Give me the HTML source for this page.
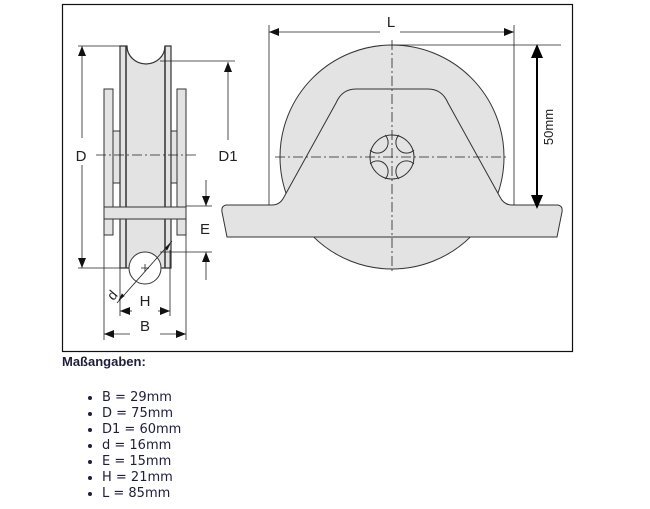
<!DOCTYPE html>
<html><head><meta charset="utf-8"><style>
body{margin:0;background:#fff;width:650px;height:509px;overflow:hidden;position:relative}
svg{position:absolute;left:0;top:0}
.t{font-family:"Liberation Sans",Arial,sans-serif;fill:#222}
#txt{position:absolute;left:62px;top:354px;font-family:"DejaVu Sans",Verdana,sans-serif;color:#1e1e3c;font-size:13px}
#txt b{font-family:"Liberation Sans",Arial,sans-serif;font-size:13px}
ul{margin:20px 0 0 0;padding:0 0 0 40px;list-style:disc}
li{line-height:16px;height:16px}
</style></head><body>
<svg width="650" height="509" viewBox="0 0 650 509">
<defs>
<marker id="a" markerWidth="10" markerHeight="8" refX="10" refY="4" orient="auto" markerUnits="userSpaceOnUse"><path d="M0,0 L10,4 L0,8 z" fill="#111"/></marker>
</defs>
<rect x="62.5" y="4.5" width="510" height="347" fill="#fff" stroke="#111" stroke-width="1.2"/>
<g stroke="#333" stroke-width="1" fill="#e3e3e3">
<rect x="104" y="89" width="9" height="146"/>
<rect x="177" y="89" width="9" height="146"/>
<rect x="113" y="131" width="7" height="52"/>
<rect x="170" y="131" width="7" height="52"/>
<path d="M120,46 L127,46 A19,18 0 0 0 165,46 L171,46 L171,268 L120,268 Z" stroke-width="1.2"/>
<line x1="126" y1="46" x2="126" y2="268" stroke-width="1.5"/>
<line x1="165" y1="46" x2="165" y2="268" stroke-width="1.5"/>
<rect x="104" y="207" width="82" height="12"/>
<circle cx="145" cy="268" r="16" fill="#fff"/>
</g>
<g stroke="#222" stroke-width="0.8" fill="none">
<path d="M96,155 H197" stroke-dasharray="10,3,2,3"/>
<line x1="78" y1="46" x2="120" y2="46"/><line x1="78" y1="268" x2="120" y2="268"/>
<line x1="82" y1="138" x2="82" y2="46" marker-end="url(#a)"/>
<line x1="82" y1="165" x2="82" y2="268" marker-end="url(#a)"/>
<line x1="160" y1="61" x2="235" y2="61"/>
<line x1="228" y1="140" x2="228" y2="62" marker-end="url(#a)"/>
<line x1="186" y1="206" x2="212" y2="206"/><line x1="160" y1="252" x2="212" y2="252"/>
<line x1="206" y1="180" x2="206" y2="206" marker-end="url(#a)"/>
<line x1="206" y1="280" x2="206" y2="252" marker-end="url(#a)"/>
<line x1="117" y1="303" x2="172" y2="241"/>
<path d="M119,300 L124,296 L122,294 Z M170,244 L165,248 L167,250 Z" fill="#111"/>
<line x1="141" y1="268" x2="149" y2="268"/><line x1="145" y1="264" x2="145" y2="272"/>
<line x1="120" y1="268" x2="120" y2="316"/><line x1="170" y1="250" x2="170" y2="316"/>
<line x1="132" y1="311" x2="120" y2="311" marker-end="url(#a)"/>
<line x1="158" y1="311" x2="170" y2="311" marker-end="url(#a)"/>
<line x1="104" y1="235" x2="104" y2="340"/><line x1="186" y1="235" x2="186" y2="340"/>
<line x1="130" y1="334" x2="104" y2="334" marker-end="url(#a)"/>
<line x1="160" y1="334" x2="186" y2="334" marker-end="url(#a)"/>
</g>
<text class="t" x="81" y="161" font-size="15" text-anchor="middle">D</text>
<text class="t" x="228" y="161" font-size="15" text-anchor="middle">D1</text>
<text class="t" x="205" y="234" font-size="15" text-anchor="middle">E</text>
<text class="t" x="145" y="306" font-size="15" text-anchor="middle">H</text>
<text class="t" x="145" y="331" font-size="15" text-anchor="middle">B</text>
<text class="t" x="112" y="300" font-size="14" text-anchor="middle" transform="rotate(-50 112 295)">d</text>
<g stroke="#333" stroke-width="1" fill="#e3e3e3">
<circle cx="392" cy="157" r="112"/>
<path d="M272,205 Q280,205 284,197 L336,103 Q342,89 356,89 L428,89 Q442,89 448,103 L500,197 Q504,205 512,205 L558,205 Q563,206 562,212 L557,237 L227,237 L222,212 Q221,206 226,205 Z"/>
<circle cx="392" cy="157" r="22"/>
<path d="M385,135 A8,8 0 0 1 370,150 M399,135 A8,8 0 0 0 414,150 M385,179 A8,8 0 0 0 370,164 M399,179 A8,8 0 0 1 414,164" fill="none"/>
</g>
<g stroke="#222" stroke-width="0.8" fill="none">
<path d="M392,40 V272" stroke-dasharray="10,3,2,3"/>
<path d="M275,157 H508" stroke-dasharray="10,3,2,3"/>
<line x1="269" y1="25" x2="269" y2="205"/><line x1="514" y1="25" x2="514" y2="205"/>
<line x1="380" y1="32" x2="269" y2="32" marker-end="url(#a)"/>
<line x1="400" y1="32" x2="514" y2="32" marker-end="url(#a)"/>
<line x1="392" y1="45" x2="561" y2="45"/>
</g>
<g stroke="#000" stroke-width="2"><line x1="537" y1="56" x2="537" y2="196"/></g>
<path d="M537,44 L531,58 L543,58 Z M537,209 L531,195 L543,195 Z" fill="#000"/>
<text class="t" x="391" y="27" font-size="15" text-anchor="middle">L</text>
<text class="t" x="553" y="127" font-size="13" text-anchor="middle" fill="#000" transform="rotate(-90 553 127)">50mm</text>
</svg>
<div id="txt"><b>Maßangaben:</b>
<ul><li>B = 29mm</li><li>D = 75mm</li><li>D1 = 60mm</li><li>d = 16mm</li><li>E = 15mm</li><li>H = 21mm</li><li>L = 85mm</li></ul></div>
</body></html>
